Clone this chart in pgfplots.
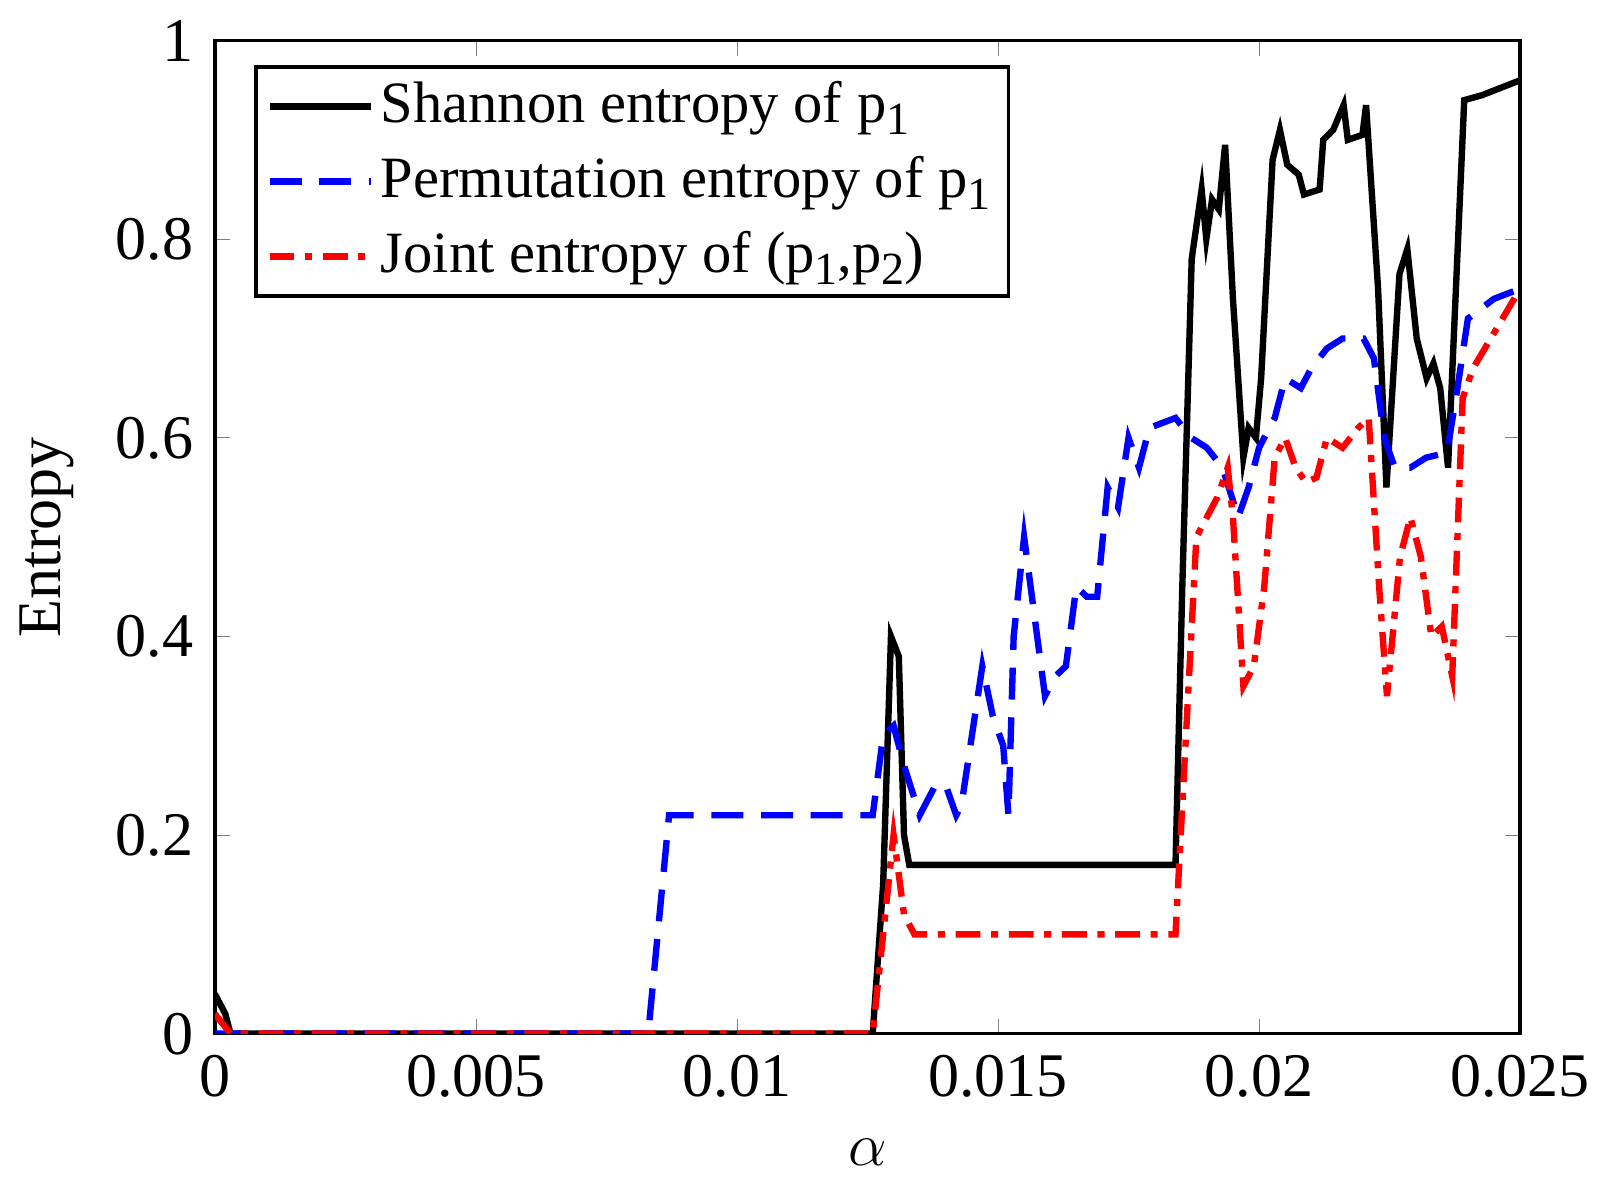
\documentclass[border=0pt]{standalone}
\usepackage{pgfplots}
\pgfplotsset{compat=1.18}
\usepackage{fontspec}
\setmainfont{Liberation Serif}
\newcommand{\sub}[1]{\raisebox{-0.45ex}{\fontsize{13}{13}\selectfont #1}}
\begin{document}
\fontsize{17}{20}\selectfont
\begin{tikzpicture}
\begin{axis}[scale only axis, width=368pt, height=280pt,
 xmin=0, xmax=0.025, ymin=0, ymax=1,
 xtick={0,0.005,0.01,0.015,0.02,0.025},
 xticklabels={0,0.005,0.01,0.015,0.02,0.025},
 ytick={0,0.2,0.4,0.6,0.8,1},
 yticklabels={0,0.2,0.4,0.6,0.8,1},
 scaled x ticks=false,
 tick align=inside, line width=0.8pt, axis line style={line width=1pt},
 xlabel={$\alpha$}, ylabel={Entropy},
 ticklabel style={font=\fontsize{17.5}{20}\selectfont},
 label style={font=\fontsize{17.5}{20}\selectfont},
 legend style={at={(0.03,0.975)}, anchor=north west, draw=black, line width=1pt, font=\fontsize{16.5}{19}\selectfont, row sep=3pt, legend image code/.code={\draw[#1] (0cm,0cm) -- (1cm,0cm);}},
 legend cell align=left,
]
\addplot[black, line width=1.8pt] coordinates {(0,0.04)(0.0002,0.02)(0.0003,0)(0.0126,0)(0.0128,0.15)(0.01295,0.40)(0.0131,0.38)(0.0132,0.2)(0.0133,0.17)(0.0184,0.17)(0.01853,0.45)(0.01871,0.78)(0.0189,0.85)(0.01899,0.80)(0.0191,0.84)(0.01923,0.83)(0.01935,0.895)(0.0195,0.74)(0.0197,0.58)(0.0198,0.61)(0.01994,0.60)(0.02004,0.66)(0.02026,0.88)(0.0204,0.91)(0.02054,0.875)(0.02076,0.865)(0.02086,0.845)(0.02116,0.85)(0.02123,0.90)(0.02142,0.91)(0.02162,0.935)(0.0217,0.90)(0.02198,0.905)(0.02205,0.935)(0.02228,0.75)(0.02244,0.55)(0.02269,0.765)(0.02284,0.79)(0.02302,0.70)(0.02321,0.66)(0.02334,0.675)(0.02347,0.65)(0.02362,0.57)(0.02393,0.94)(0.02427,0.945)(0.025,0.96)};
\addlegendentry{Shannon entropy of p\sub{1}}
\addplot[blue, line width=1.8pt, dash pattern=on 9pt off 5pt] coordinates {(0,0)(0.0083,0)(0.0087,0.22)(0.0126,0.22)(0.0128,0.30)(0.013,0.31)(0.0132,0.27)(0.0135,0.22)(0.0138,0.25)(0.014,0.25)(0.0142,0.22)(0.0143,0.23)(0.0145,0.30)(0.0147,0.37)(0.0149,0.32)(0.0151,0.29)(0.0152,0.22)(0.0153,0.40)(0.0155,0.50)(0.0157,0.42)(0.0159,0.34)(0.0161,0.36)(0.0163,0.37)(0.0165,0.45)(0.0167,0.44)(0.0169,0.44)(0.0171,0.55)(0.0173,0.53)(0.0175,0.60)(0.0177,0.57)(0.0179,0.61)(0.0184,0.62)(0.0187,0.60)(0.019,0.59)(0.0193,0.57)(0.0196,0.52)(0.0198,0.55)(0.02,0.59)(0.0203,0.62)(0.0205,0.66)(0.0208,0.65)(0.021,0.67)(0.0213,0.69)(0.0216,0.70)(0.022,0.70)(0.0222,0.68)(0.0224,0.60)(0.0226,0.57)(0.0229,0.57)(0.0232,0.58)(0.0236,0.585)(0.0238,0.65)(0.024,0.72)(0.0245,0.74)(0.025,0.75)};
\addlegendentry{Permutation entropy of p\sub{1}}
\addplot[red, line width=1.8pt, dash pattern=on 7pt off 3pt on 2pt off 3pt] coordinates {(0,0.02)(0.0003,0)(0.0126,0)(0.0128,0.1)(0.013,0.2)(0.0132,0.12)(0.0134,0.1)(0.0184,0.1)(0.0186,0.3)(0.0188,0.5)(0.019,0.52)(0.0192,0.54)(0.0194,0.57)(0.0195,0.52)(0.0197,0.35)(0.0199,0.37)(0.0201,0.45)(0.0203,0.58)(0.0205,0.60)(0.0207,0.57)(0.0209,0.555)(0.0211,0.56)(0.0213,0.60)(0.0216,0.59)(0.0219,0.61)(0.0221,0.62)(0.0223,0.45)(0.02245,0.34)(0.0227,0.48)(0.0229,0.52)(0.0231,0.48)(0.0233,0.40)(0.0235,0.41)(0.0237,0.36)(0.0239,0.64)(0.0241,0.67)(0.025,0.75)};
\addlegendentry{Joint entropy of (p\sub{1},p\sub{2})}
\end{axis}
\end{tikzpicture}
\end{document}
